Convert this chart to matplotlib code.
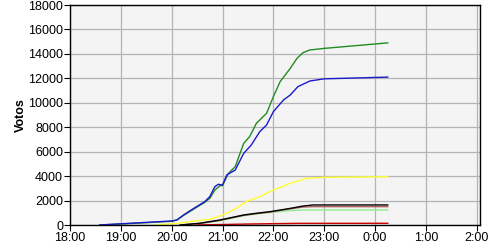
import matplotlib
matplotlib.use("Agg")
import matplotlib.pyplot as plt

plt.rcParams['font.family'] = ['Liberation Sans', 'DejaVu Sans']

# times as "H:MM" (hours before noon are the next day)
green_t = ["18:35", "19:00", "20:00", "20:06", "20:14", "20:26", "20:39", "20:45", "20:51", "20:57", "21:00", "21:07", "21:15", "21:25", "21:32", "21:40", "21:52", "22:00", "22:08", "22:20", "22:28", "22:35", "22:43", "23:00", "0:15"]
green_v = [0, 80, 300, 400, 780, 1300, 1850, 2180, 2860, 3220, 3220, 4230, 4770, 6680, 7230, 8320, 9140, 10500, 11730, 12820, 13640, 14100, 14320, 14450, 14900]

blue_t = ["18:35", "19:00", "20:00", "20:06", "20:14", "20:26", "20:39", "20:45", "20:51", "20:55", "21:00", "21:05", "21:15", "21:25", "21:34", "21:44", "21:52", "22:00", "22:12", "22:20", "22:29", "22:43", "23:00", "0:15"]
blue_v = [0, 100, 330, 410, 820, 1360, 1910, 2320, 3140, 3330, 3270, 4090, 4500, 5860, 6550, 7640, 8180, 9270, 10230, 10640, 11320, 11780, 11960, 12100]

yellow_t = ["19:40", "20:06", "20:37", "20:45", "20:59", "21:13", "21:28", "21:44", "22:00", "22:20", "22:39", "23:00", "0:15"]
yellow_v = [0, 130, 410, 460, 780, 1230, 1910, 2320, 2860, 3410, 3820, 3900, 3950]

black_t = ["20:10", "20:33", "20:57", "21:25", "21:40", "21:56", "22:20", "22:35", "22:47", "0:15"]
black_v = [0, 140, 410, 820, 960, 1090, 1360, 1550, 1640, 1640]

brown_t = ["20:10", "20:33", "20:57", "21:25", "21:40", "21:56", "22:20", "22:35", "22:47", "0:15"]
brown_v = [0, 120, 380, 790, 930, 1060, 1320, 1470, 1500, 1500]

lgreen_t = ["20:10", "20:33", "20:57", "21:25", "21:40", "21:56", "22:20", "22:35", "0:15"]
lgreen_v = [0, 100, 350, 760, 900, 1020, 1180, 1230, 1230]

red_t = ["20:30", "21:00", "21:30", "22:00", "22:30", "0:15"]
red_v = [0, 40, 80, 110, 135, 140]

x_tick_labels = ["18:00", "19:00", "20:00", "21:00", "22:00", "23:00", "0:00", "1:00", "2:00"]
y_ticks = [0, 2000, 4000, 6000, 8000, 10000, 12000, 14000, 16000, 18000]


def to_hours(ts):
    out = []
    for s in ts:
        h, m = s.split(":")
        h = int(h)
        if h < 12:
            h += 24
        out.append(h + int(m) / 60)
    return out


fig = plt.figure(figsize=(5, 2.5), dpi=100)
ax = fig.add_axes([0.14, 0.1, 0.82, 0.88])
ax.set_facecolor("#f4f4f4")

series = [
    (lgreen_t, lgreen_v, "#90ee90"),
    (brown_t, brown_v, "#b06060"),
    (black_t, black_v, "#000000"),
    (red_t, red_v, "#cc0000"),
    (yellow_t, yellow_v, "#ffff33"),
    (green_t, green_v, "#228b22"),
    (blue_t, blue_v, "#1a1acc"),
]
for t, v, c in series:
    ax.plot(to_hours(t), v, color=c, lw=1.0)

ax.set_xlim(18, 26.065)
ax.set_ylim(0, 18000)
ax.set_xticks(list(range(18, 27)))
ax.set_xticklabels(x_tick_labels)
ax.set_yticks(y_ticks)
ax.set_yticklabels([str(v) for v in y_ticks])
ax.grid(True, color="#b4b4b4", lw=0.9)
ax.set_axisbelow(True)
ax.tick_params(labelsize=9, length=4, width=0.8, color="black", pad=1)
for s in ax.spines.values():
    s.set_color("black")
    s.set_linewidth(1.0)
ax.set_ylabel("Votos", fontsize=9, fontweight="bold", labelpad=1)

fig.savefig("out.png", dpi=100)
